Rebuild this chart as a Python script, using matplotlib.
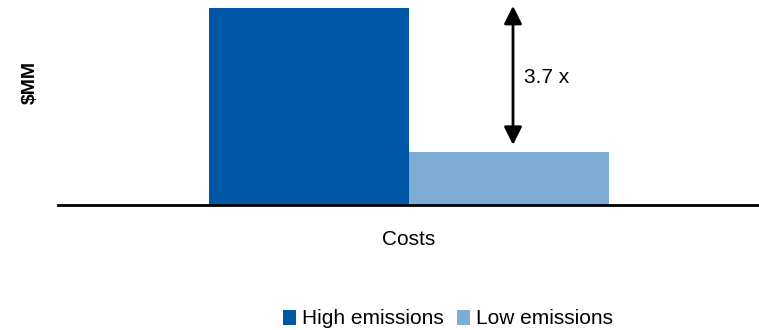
import matplotlib.pyplot as plt
from matplotlib.patches import Patch

plt.rcParams['font.family'] = ['Liberation Sans', 'DejaVu Sans']

# cost comparison data
category = "Costs"
series = ["High emissions", "Low emissions"]
values = [3.7, 1.0]
colors = ["#0057A8", "#7FACD4"]

fig = plt.figure(figsize=(7.59, 3.30), dpi=100)
ax = fig.add_axes([58 / 759, 1 - 205 / 330, 700 / 759, 205 / 330])

# bars sit side by side, touching, centred on the category
xpos = [-0.5, 0.5]
ax.bar(xpos, values, width=1.0, color=colors, zorder=2)

ax.set_xlim(-1.755, 1.745)
ax.set_ylim(0, values[0] * 205 / 197)

# only keep the bottom axis line
for side in ['left', 'right', 'top']:
    ax.spines[side].set_visible(False)
ax.spines['bottom'].set_linewidth(2)
ax.spines['bottom'].set_color('black')
ax.spines['bottom'].set_zorder(3)
ax.set_yticks([])
ax.set_xticks([0])
ax.set_xticklabels([category], fontsize=15)
ax.tick_params(axis='x', length=0, pad=18)

ax.set_ylabel("$MM", fontsize=14, fontweight='bold')
ax.yaxis.set_label_coords(-0.028, 0.6)

# double arrow showing the ratio between the two bars
ax.annotate("", xy=(0.52, values[0] + 0.04), xytext=(0.52, values[1] + 0.13),
            arrowprops=dict(arrowstyle='<|-|>', color='black', lw=2,
                            mutation_scale=27, shrinkA=0, shrinkB=0),
            annotation_clip=False)
ax.text(0.575, 2.40, f"{values[0] / values[1]:.1f} x", fontsize=15,
        va='center', ha='left')

handles = [Patch(facecolor=c, edgecolor='none') for c in colors]
fig.legend(handles, series, loc='center', bbox_to_anchor=(448 / 759, 1 - 319 / 330),
           ncol=2, frameon=False, fontsize=15, handlelength=0.65,
           handleheight=0.7, handletextpad=0.3, columnspacing=0.6,
           borderpad=0, borderaxespad=0)

fig.savefig("out.png", dpi=100)
